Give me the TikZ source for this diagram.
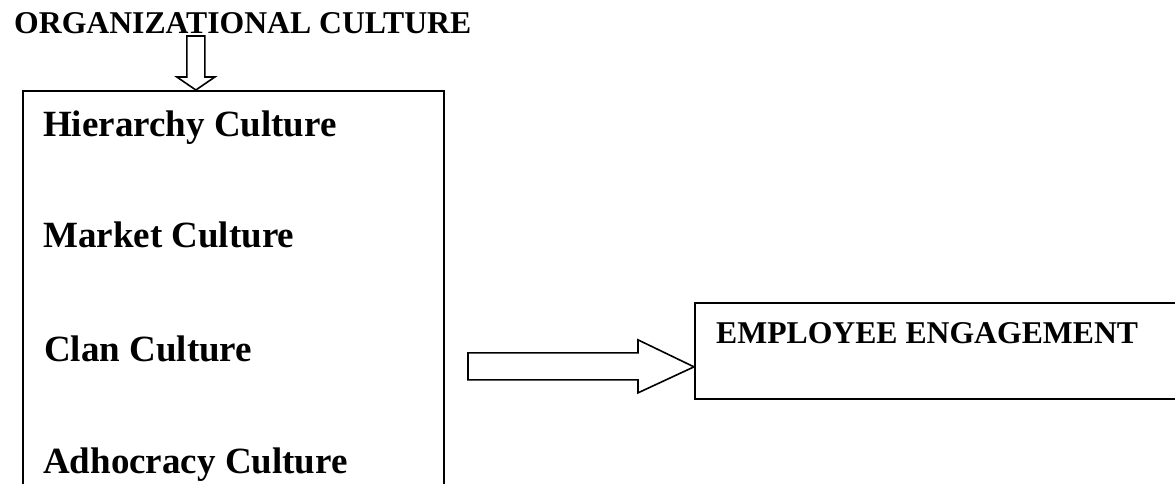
\documentclass[tikz,border=0pt]{standalone}
\usepackage{fontspec}
\setmainfont{Liberation Serif}
\usetikzlibrary{positioning}

\tikzset{
  box/.style={draw, line width=1.7pt, rectangle, inner sep=0pt},
  blockarrow/.style={draw, line width=1.6pt, fill=white, line join=miter},
  headtext/.style={anchor=base west, inner sep=0pt, font=\fontsize{31.7}{38}\selectfont\bfseries},
  itemtext/.style={anchor=base west, inner sep=0pt, font=\fontsize{37}{44}\selectfont\bfseries}
}

\begin{document}
\begin{tikzpicture}[x=1pt,y=-1pt]
\useasboundingbox (0,0) rectangle (1175,483);
\clip (0,0) rectangle (1175,483);
% the two boxes
\node[box, anchor=north west, minimum width=421pt, minimum height=430pt] (culture) at (22,90) {};
\node[box, anchor=north west, minimum width=520pt, minimum height=96pt] (engage) at (694,302) {};
% texts
\node[headtext] (title) at (14,33) {ORGANIZATIONAL CULTURE};
\node[itemtext] (hier) at (43,136) {Hierarchy Culture};
\node[itemtext] (market) at (43,247) {Market Culture};
\node[itemtext] (clan) at (44,361) {Clan Culture};
\node[itemtext] (adho) at (43,473) {Adhocracy Culture};
\node[headtext] (engtext) at (716,343) {EMPLOYEE ENGAGEMENT};
% block arrows
\draw[blockarrow] ([xshift=-37.5pt]culture.north) -- ++(-19,-13) -- ++(10,0) -- ++(0,-41)
  -- ++(18,0) -- ++(0,41) -- ++(10,0) -- cycle;
\draw[blockarrow] ([yshift=-16pt]engage.west) -- ++(-56,-27) -- ++(0,13) -- ++(-170,0)
  -- ++(0,27) -- ++(170,0) -- ++(0,13) -- cycle;
\end{tikzpicture}
\end{document}
